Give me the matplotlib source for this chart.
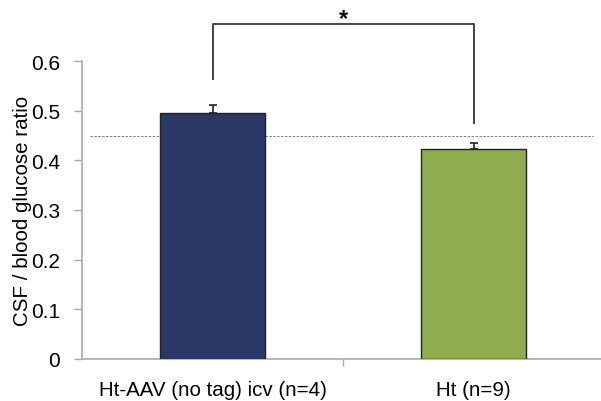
import matplotlib
matplotlib.use("Agg")
import matplotlib.pyplot as plt

plt.rcParams['font.family'] = ['Liberation Sans', 'DejaVu Sans']

categories = ["Ht-AAV (no tag) icv (n=4)", "Ht (n=9)"]
values = [0.496, 0.4225]
errors = [0.016, 0.012]
colors = ["#2b3766", "#8fad4f"]
ref_line = 0.45
bracket_top = 0.676
bracket_left_bottom = 0.564
bracket_right_bottom = 0.475
yticks = [0, 0.1, 0.2, 0.3, 0.4, 0.5, 0.6]
ytick_labels = ["0", "0.1", "0.2", "0.3", "0.4", "0.5", "0.6"]

fig = plt.figure(figsize=(6.01, 4.02), dpi=100)
ax = fig.add_axes([82/601, 1 - 359.7/402, 519/601, (359.7 - 62.3)/402])

x = list(range(len(categories)))
ax.bar(x, values, width=0.4, color=colors, edgecolor="#222222", linewidth=1.0, zorder=3)
ax.errorbar(x, values, yerr=[[0]*len(values), errors], fmt="none", ecolor="#222222",
            elinewidth=1.2, capsize=3.0, capthick=1.2, zorder=4)

ax.axhline(ref_line, xmin=0.015, xmax=0.985, color="#808080", linestyle=(0, (2.5, 1.5)),
           linewidth=0.7, zorder=2)

# significance bracket
ax.plot([x[0], x[0], x[1], x[1]],
        [bracket_left_bottom, bracket_top, bracket_top, bracket_right_bottom],
        color="#444444", linewidth=1.4, clip_on=False, zorder=5)
ax.text(0.5, bracket_top - 0.002, "*", ha="center", va="baseline", fontsize=17,
        fontweight="bold", color="#111111", clip_on=False)

ax.set_xlim(-0.5, 1.488)
ax.set_ylim(0, 0.6)
ax.set_yticks(yticks)
ax.set_yticklabels(ytick_labels, fontsize=15)
ax.set_xticks(x)
ax.set_xticklabels(categories, fontsize=14.8)
ax.tick_params(axis="x", length=0, pad=15)
ax.set_xticks([0.5], minor=True)
ax.tick_params(axis="x", which="minor", length=5, color="#aaaaaa", width=1)
ax.tick_params(axis="y", length=6, color="#aaaaaa", width=1, pad=10)

for s in ["top", "right"]:
    ax.spines[s].set_visible(False)
for s in ["left", "bottom"]:
    ax.spines[s].set_color("#aaaaaa")
    ax.spines[s].set_linewidth(1.2)

ax.set_ylabel("CSF / blood glucose ratio", fontsize=14.8, labelpad=-1)

fig.savefig("out.png", dpi=100)
